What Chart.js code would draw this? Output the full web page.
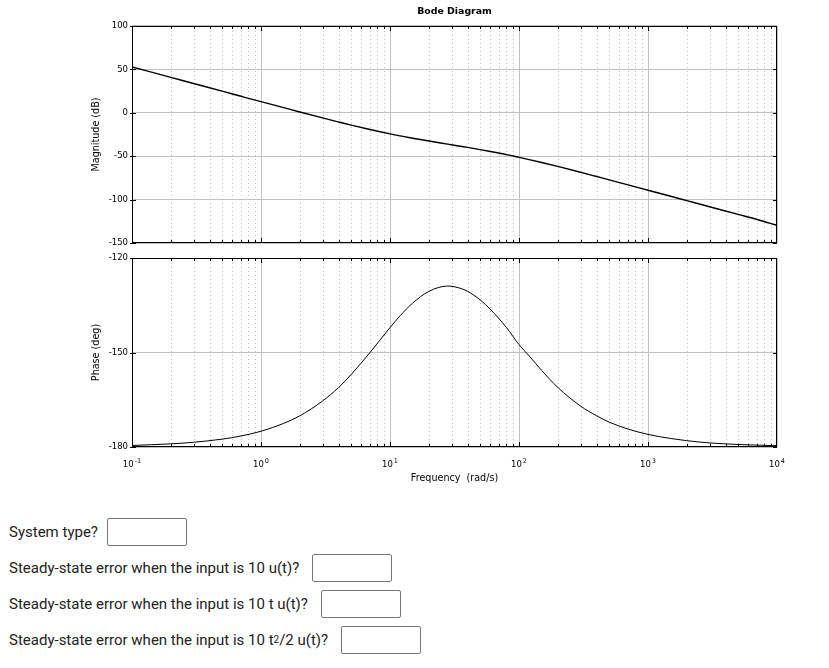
<!DOCTYPE html>
<html lang="en">
<head>
<meta charset="UTF-8">
<title>Bode Diagram</title>
<script src="https://cdn.jsdelivr.net/npm/chart.js@4"></script>
<style>
    body { margin: 0; background: #fff; }
    .plot { position: absolute; left: 0; width: 829px; }
    #magBox { top: 0; height: 250px; }
    #phaseBox { top: 250px; height: 240px; }
    .questions {
        position: absolute;
        top: 518px;
        left: 9px;
        font-family: Roboto, "Noto Sans", sans-serif;
        font-size: 15px;
        color: #222;
    }
    .q { display: flex; align-items: center; height: 28px; margin-bottom: 8px; }
    .q input {
        box-sizing: border-box;
        width: 80px;
        height: 28px;
        margin-left: 13px;
        border: 1px solid #767676;
        border-radius: 2px;
        background: #fff;
    }
    .q:first-child input { margin-left: 9px; }
    .q sup { font-size: 10px; line-height: 0; vertical-align: 5px; }
</style>
</head>
<body>

<div class="plot" id="magBox"><canvas id="magChart" width="829" height="250"></canvas></div>
<div class="plot" id="phaseBox"><canvas id="phaseChart" width="829" height="240"></canvas></div>

<div class="questions">
    <div class="q">System type? <input type="text"></div>
    <div class="q">Steady-state error when the input is 10 u(t)? <input type="text"></div>
    <div class="q">Steady-state error when the input is 10 t u(t)? <input type="text"></div>
    <div class="q">Steady-state error when the input is 10 t<sup>2</sup>/2 u(t)? <input type="text"></div>
</div>

<script>
// frequency points (rad/s)
const freq = [0.1, 0.2, 0.3, 0.5, 0.7, 1, 1.5, 2, 3, 4, 5, 7, 10, 12, 15, 20, 28, 35, 40, 50, 60, 80,
              100, 120, 150, 200, 300, 400, 500, 700, 1000, 1500, 2000, 3000, 5000, 7000, 10000];
// magnitude (dB)
const magDb = [52.8, 40.8, 33.7, 24.9, 19.0, 12.8, 5.9, 0.9, -5.9, -10.6, -14.2, -19.3, -24.3, -26.6, -29.3, -32.5, -36.1, -38.5, -39.9, -42.4, -44.6, -48.2,
               -51.3, -53.9, -57.3, -61.8, -68.5, -73.4, -77.2, -83.0, -89.2, -96.2, -101.2, -108.2, -117.1, -122.9, -129.6];
// phase (deg)
const phaseDeg = [-179.5, -179.0, -178.5, -177.5, -176.5, -175.0, -172.5, -170.1, -165.4, -161.1, -157.0, -150.0, -142.1, -138.3, -134.3, -130.6, -128.9, -129.6, -130.6, -133.3, -136.3, -142.1,
                  -147.5, -151.1, -155.7, -161.1, -167.0, -170.1, -172.1, -174.3, -176.0, -177.3, -178.0, -178.7, -179.2, -179.4, -179.6];

// x ticks: decades, labelled 10^exp
const xTickValues = [0.1, 1, 10, 100, 1000, 10000];
const xTickExps = ['-1', '0', '1', '2', '3', '4'];

const yTickFont = { family: 'DejaVu Sans', size: 8.5 };
const titleFont = { family: 'DejaVu Sans', size: 9.6 };

// matlab-ish box: minor dotted grid, frame and inside ticks
const boxPlugin = {
    id: 'matlabBox',
    beforeDatasetsDraw(chart) {
        const a = chart.chartArea, x = chart.scales.x, ctx = chart.ctx;
        ctx.save();
        ctx.strokeStyle = '#bcbcbc';
        ctx.lineWidth = 1;
        ctx.setLineDash([1, 3]);
        for (let d = -1; d < 4; d++) {
            for (let k = 2; k < 10; k++) {
                const px = Math.round(x.getPixelForValue(k * Math.pow(10, d))) + 0.5;
                ctx.beginPath();
                ctx.moveTo(px, a.top + 1);
                ctx.lineTo(px, a.bottom);
                ctx.stroke();
            }
        }
        ctx.restore();
    },
    afterDraw(chart) {
        const a = chart.chartArea, x = chart.scales.x, y = chart.scales.y, ctx = chart.ctx;
        ctx.save();
        ctx.strokeStyle = '#000';
        ctx.lineWidth = 1;
        ctx.strokeRect(Math.round(a.left) + 0.5, Math.round(a.top) + 0.5,
                       Math.round(a.right - a.left) - 1, Math.round(a.bottom - a.top) - 1);
        ctx.beginPath();
        for (let d = -1; d < 4; d++) {
            for (let k = 1; k < 10; k++) {
                const len = k === 1 ? 5 : 3;
                const px = Math.round(x.getPixelForValue(k * Math.pow(10, d))) + 0.5;
                ctx.moveTo(px, a.top); ctx.lineTo(px, a.top + len);
                ctx.moveTo(px, a.bottom); ctx.lineTo(px, a.bottom - len);
            }
        }
        y.ticks.forEach(t => {
            const py = Math.round(y.getPixelForValue(t.value)) + 0.5;
            ctx.moveTo(a.left - 2, py); ctx.lineTo(a.left + 4, py);
            ctx.moveTo(a.right, py); ctx.lineTo(a.right - 4, py);
        });
        ctx.stroke();
        ctx.restore();
    }
};

// decade labels with a real superscript
const decadeLabels = {
    id: 'decadeLabels',
    afterDraw(chart) {
        const x = chart.scales.x, ctx = chart.ctx, base = chart.chartArea.bottom + 19.5;
        ctx.save();
        ctx.fillStyle = '#000';
        ctx.textBaseline = 'alphabetic';
        ctx.textAlign = 'left';
        xTickValues.forEach((v, i) => {
            ctx.font = '8.5px "DejaVu Sans"';
            const w1 = ctx.measureText('10').width;
            ctx.font = '6.5px "DejaVu Sans"';
            const w2 = ctx.measureText(xTickExps[i]).width;
            const left = x.getPixelForValue(v) - (w1 + 1 + w2) / 2;
            ctx.font = '8.5px "DejaVu Sans"';
            ctx.fillText('10', left, base);
            ctx.font = '6.5px "DejaVu Sans"';
            ctx.fillText(xTickExps[i], left + w1 + 1, base - 4);
        });
        ctx.restore();
    }
};

function xScale(showLabels) {
    return {
        type: 'logarithmic',
        min: 0.1,
        max: 10000,
        afterBuildTicks: s => { s.ticks = xTickValues.map(v => ({ value: v })); },
        afterFit: s => { s.height = showLabels ? 43 : 0; s.paddingLeft = 0; s.paddingRight = 0; },
        grid: { color: '#c0c0c0', drawTicks: false },
        border: { display: false },
        ticks: { display: false },
        title: {
            display: showLabels,
            text: 'Frequency  (rad/s)',
            color: '#000',
            font: titleFont,
            padding: { top: 0, bottom: 6 }
        }
    };
}

function yScale(min, max, step, label) {
    return {
        min: min,
        max: max,
        afterFit: s => { s.width = 44; s.paddingTop = 0; s.paddingBottom = 0; },
        grid: { color: '#c0c0c0', drawTicks: false },
        border: { display: false },
        ticks: { stepSize: step, padding: 4, color: '#000', font: yTickFont },
        title: { display: true, text: label, color: '#000', font: titleFont, padding: { top: 3, bottom: 0 } }
    };
}

function points(ys) {
    return freq.map((f, i) => ({ x: f, y: ys[i] }));
}

new Chart(document.getElementById('magChart'), {
    type: 'line',
    data: {
        datasets: [{
            data: points(magDb),
            borderColor: '#000',
            borderWidth: 1.4,
            pointRadius: 0,
            cubicInterpolationMode: 'monotone'
        }]
    },
    options: {
        responsive: false,
        animation: false,
        layout: { padding: { left: 88, right: 52, top: 0, bottom: 7 } },
        plugins: {
            legend: { display: false },
            tooltip: { enabled: false },
            title: {
                display: true,
                text: 'Bode Diagram',
                fullSize: false,
                color: '#000',
                font: { family: 'DejaVu Sans', size: 9.4, weight: 'bold' },
                padding: { top: 6, bottom: 8.7 }
            }
        },
        scales: { x: xScale(false), y: yScale(-150, 100, 50, 'Magnitude (dB)') }
    },
    plugins: [boxPlugin]
});

new Chart(document.getElementById('phaseChart'), {
    type: 'line',
    data: {
        datasets: [{
            data: points(phaseDeg),
            borderColor: '#000',
            borderWidth: 1,
            pointRadius: 0,
            cubicInterpolationMode: 'monotone'
        }]
    },
    options: {
        responsive: false,
        animation: false,
        layout: { padding: { left: 88, right: 52, top: 8, bottom: 0 } },
        plugins: { legend: { display: false }, tooltip: { enabled: false } },
        scales: { x: xScale(true), y: yScale(-180, -120, 30, 'Phase (deg)') }
    },
    plugins: [boxPlugin, decadeLabels]
});
</script>
</body>
</html>
